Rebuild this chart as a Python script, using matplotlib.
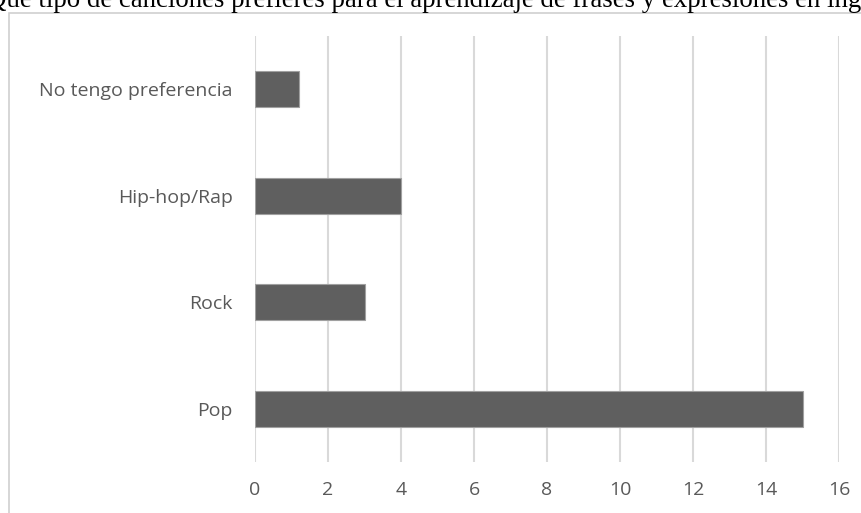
import matplotlib.pyplot as plt
from matplotlib.patches import Rectangle

# data (bottom to top)
categories = ['Pop', 'Rock', 'Hip-hop/Rap', 'No tengo preferencia']
counts = [15, 3, 4, 1.2]
x_ticks = [0, 2, 4, 6, 8, 10, 12, 14, 16]
title = '¿Qué tipo de canciones prefieres para el aprendizaje de frases y expresiones en inglés?'

W, H = 861, 513
fig = plt.figure(figsize=(W / 100, H / 100), dpi=100)

# chart frame, cut off by the image on the right and bottom
fig.patches.append(Rectangle((9 / W, -0.1), 1.0, (H - 13) / H + 0.1,
                             transform=fig.transFigure, fill=False,
                             edgecolor='#d0d0d0', linewidth=1.2))

# title sits partly outside the picture, as in the reference
fig.text(-25 / W, 1 - 7 / H, title, family='Liberation Serif', fontsize=19.4,
         color='black', va='baseline', ha='left')

ax = fig.add_axes([255 / W, 51 / H, 584 / W, 426 / H])
ax.barh(range(len(categories)), counts, height=0.34, color='#5f5f5f',
        edgecolor='#a0a0a0', linewidth=0.8, zorder=3)

ax.set_xlim(0, 16)
ax.set_ylim(-0.5, len(categories) - 0.5)
ax.set_xticks(x_ticks)
ax.set_yticks(range(len(categories)))
ax.set_yticklabels(categories)
ax.grid(axis='x', color='#d9d9d9', linewidth=1.5, zorder=0)
for s in ax.spines.values():
    s.set_visible(False)
ax.tick_params(axis='both', length=0, labelsize=14, labelcolor='#595959')
ax.tick_params(axis='y', pad=16)
ax.tick_params(axis='x', pad=14)
for lbl in ax.get_xticklabels() + ax.get_yticklabels():
    lbl.set_family('Open Sans')

fig.savefig('out.png', dpi=100)
